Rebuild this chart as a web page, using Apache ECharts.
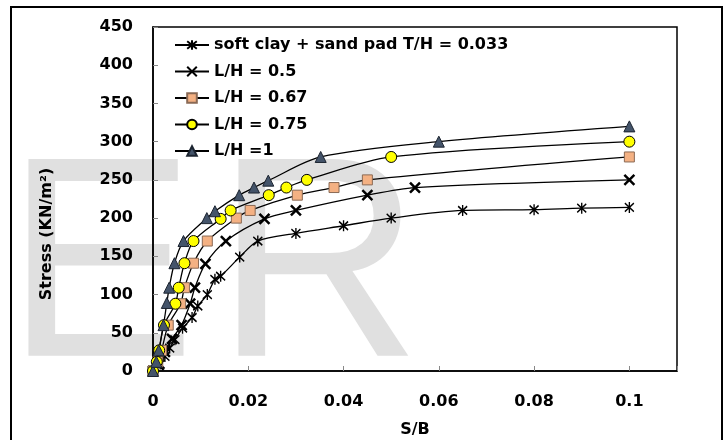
<!DOCTYPE html>
<html>
<head>
<meta charset="utf-8">
<script src="https://cdn.jsdelivr.net/npm/echarts@6/dist/echarts.min.js"></script>
<style>
  html, body { margin: 0; padding: 0; background: #fff; }
  #chart { width: 725px; height: 440px; }
</style>
</head>
<body>
<div id="chart"></div>
<script>
// Settlement ratio S/B against bearing stress for each footing case
const seriesNames = [
  'soft clay + sand pad T/H = 0.033',
  'L/H = 0.5',
  'L/H = 0.67',
  'L/H = 0.75',
  'L/H =1'
];

const softClay = [[0,0],[0.0015,9],[0.0025,19],[0.0035,30],[0.0046,41],[0.0062,56],[0.0082,70],[0.0094,85],[0.0114,100],[0.013,120],[0.0142,124],[0.0182,149],[0.022,170],[0.03,180],[0.04,190],[0.05,200],[0.065,210],[0.08,211],[0.09,213],[0.1,214]];
const lh05 = [[0,0],[0.0012,8],[0.0025,25],[0.004,42],[0.006,60],[0.0078,88],[0.0088,109],[0.011,140],[0.0153,170],[0.0234,199],[0.03,210],[0.045,230],[0.055,240],[0.1,250]];
const lh067 = [[0,0],[0.001,12],[0.0018,27],[0.0032,60],[0.0058,88],[0.0066,109],[0.0085,141],[0.0114,170],[0.0175,200],[0.0204,210],[0.0303,230],[0.038,240],[0.045,250],[0.1,280]];
const lh075 = [[0,0],[0.0008,12],[0.0013,27],[0.0023,60],[0.0047,88],[0.0054,109],[0.0066,141],[0.0085,170],[0.0142,199],[0.0163,210],[0.0243,230],[0.028,240],[0.0323,250],[0.05,280],[0.1,300]];
const lh1 = [[0,0],[0.0007,12],[0.0012,27],[0.0022,60],[0.0029,89],[0.0034,109],[0.0045,141],[0.0064,170],[0.0113,200],[0.013,209],[0.0181,230],[0.0212,240],[0.0242,249],[0.0352,280],[0.06,300],[0.1,320]];

const xTicks = { min: 0, max: 0.11, step: 0.02, lastLabel: 0.1 };
const yTicks = { min: 0, max: 450, step: 50 };

const FONT = 'DejaVu Sans';
const txt = { fontFamily: FONT, fontWeight: 'bold', fontSize: 16, color: '#000' };

const asteriskPath = 'path://M0,0L10,10M0,10L10,0M5,-1.5L5,11.5';
const crossPath = 'path://M0,0L10,10M0,10L10,0';

function lineSeries(name, data, symbol, size, itemStyle) {
  return {
    type: 'line',
    name: name,
    data: data,
    smooth: 0.3,
    symbol: symbol,
    symbolSize: size,
    showAllSymbol: true,
    lineStyle: { color: '#000', width: 1.3 },
    itemStyle: itemStyle,
    emphasis: { disabled: true }
  };
}

const chart = echarts.init(document.getElementById('chart'), null, { renderer: 'canvas' });

chart.setOption({
  animation: false,
  backgroundColor: '#fff',
  graphic: [
    { type: 'text', z: -10, silent: true, x: 5, y: 277,
      style: { text: 'E', font: '286px "Liberation Sans"', fill: '#e0e0e0', verticalAlign: 'middle', align: 'left' } },
    { type: 'text', z: -10, silent: true, x: 215, y: 277,
      style: { text: 'R', font: '286px "Liberation Sans"', fill: '#e0e0e0', verticalAlign: 'middle', align: 'left' } },
    { type: 'rect', z: 10, silent: true,
      shape: { x: 11, y: 7, width: 711, height: 440 },
      style: { fill: null, stroke: '#000', lineWidth: 2 } }
  ],
  grid: {
    left: 153, right: 48, top: 27, bottom: 69,
    outerBoundsMode: 'none',
    show: true, borderColor: '#000', borderWidth: 1.5, backgroundColor: 'transparent'
  },
  legend: {
    orient: 'vertical',
    left: 169, top: 32,
    itemWidth: 34, itemHeight: 12, itemGap: 10.5,
    textStyle: Object.assign({}, txt, { lineHeight: 16 }),
    data: seriesNames
  },
  xAxis: {
    type: 'value',
    min: xTicks.min, max: xTicks.max, interval: xTicks.step,
    name: 'S/B', nameLocation: 'middle', nameGap: 51,
    nameTextStyle: txt,
    axisLine: { show: true, lineStyle: { color: '#000', width: 1.5 } },
    axisTick: { show: true, inside: true, length: 5, lineStyle: { color: '#888' } },
    axisLabel: Object.assign({}, txt, {
      margin: 23,
      formatter: v => (v > xTicks.lastLabel + 1e-9 ? '' : String(+v.toFixed(2)))
    }),
    splitLine: { show: false }
  },
  yAxis: {
    type: 'value',
    min: yTicks.min, max: yTicks.max, interval: yTicks.step,
    name: 'Stress (KN/m²)', nameLocation: 'middle', nameGap: 98,
    nameTextStyle: Object.assign({}, txt, { padding: [0, 70, 0, 0] }),
    axisLine: { show: true, lineStyle: { color: '#000', width: 1.5 } },
    axisTick: { show: true, inside: true, length: 5, lineStyle: { color: '#888' } },
    axisLabel: Object.assign({}, txt, { margin: 20 }),
    splitLine: { show: false }
  },
  series: [
    lineSeries(seriesNames[0], softClay, asteriskPath, [9, 11], { color: 'transparent', borderColor: '#000', borderWidth: 1.5 }),
    lineSeries(seriesNames[1], lh05, crossPath, 10, { color: 'transparent', borderColor: '#000', borderWidth: 2.5 }),
    lineSeries(seriesNames[2], lh067, 'rect', 10, { color: '#F4B183', borderColor: '#8a6a55', borderWidth: 1 }),
    lineSeries(seriesNames[3], lh075, 'circle', 11, { color: '#FFFF00', borderColor: '#000', borderWidth: 1 }),
    lineSeries(seriesNames[4], lh1, 'triangle', 11, { color: '#44546A', borderColor: '#1c2430', borderWidth: 1 })
  ]
});
</script>
</body>
</html>
